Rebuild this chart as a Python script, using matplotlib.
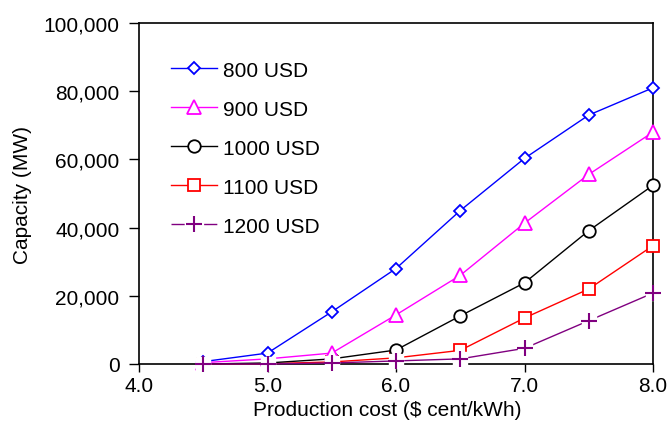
import matplotlib
matplotlib.use("Agg")
import matplotlib.pyplot as plt
from matplotlib.lines import Line2D

plt.rcParams['font.family'] = ['Liberation Sans', 'DejaVu Sans']

cost = [4.5, 5.0, 5.5, 6.0, 6.5, 7.0, 7.5, 8.0]
cap_800 = [700, 3200, 15300, 28000, 45000, 60300, 73000, 81000]
cap_900 = [400, 1500, 3200, 14400, 26000, 41300, 55600, 68000]
cap_1000 = [0, 300, 1500, 4100, 14100, 23800, 39100, 52400]
cap_1100 = [0, 100, 600, 1800, 4000, 13500, 22000, 34700]
cap_1200 = [0, 0, 300, 900, 1500, 4600, 12700, 20800]

labels = ['800 USD', '900 USD', '1000 USD', '1100 USD', '1200 USD']
colors = ['#0000ff', '#ff00ff', '#000000', '#ff0000', '#800080']
markers = ['D', '^', 'o', 's', '+']
msizes = [6.5, 9.5, 9, 8.5, 11]
series = [cap_800, cap_900, cap_1000, cap_1100, cap_1200]
zorders = [6, 5, 4, 3, 7]
LW = 1.0

fig = plt.figure(figsize=(6.7, 4.31), dpi=100)
ax = fig.add_axes([139/670, 1-365/431, (653-139)/670, (365-24)/431])

handles = []
for y, lab, c, m, ms, z in zip(series, labels, colors, markers, msizes, zorders):
    if m == '+':
        ax.plot(cost, y, color=c, lw=LW, clip_on=False, zorder=z)
        ax.plot(cost, y, linestyle='none', marker='s', ms=10.5,
                mfc='white', mec='white', clip_on=False, zorder=z + 0.1)
        ax.plot(cost, y, linestyle='none', marker='+', ms=ms, mew=1.5,
                color=c, clip_on=False, zorder=z + 0.2)
        h = Line2D([], [], color=c, lw=LW, marker='+', ms=ms, mew=1.5,
                   linestyle=(0, (9.5, 14, 9.5, 14)))
        handles.append(h)
    else:
        ln, = ax.plot(cost, y, color=c, lw=LW, marker=m, ms=ms, mfc='white',
                      mec=c, mew=1.3, clip_on=False, zorder=z)
        handles.append(ln)

ax.set_xlim(4.0, 8.0)
ax.set_ylim(0, 100000)
ax.set_xticks([4.0, 5.0, 6.0, 7.0, 8.0])
ax.set_xticklabels(['4.0', '5.0', '6.0', '7.0', '8.0'])
ax.set_yticks([0, 20000, 40000, 60000, 80000, 100000])
ax.set_yticklabels(['0', '20,000', '40,000', '60,000', '80,000', '100,000'])
ax.tick_params(axis='x', direction='out', length=6, width=1, labelsize=15, pad=3)
ax.tick_params(axis='y', direction='out', length=7, width=1, labelsize=15, pad=7)
ax.tick_params(top=False, right=False)
for s in ax.spines.values():
    s.set_linewidth(1.2)

ax.set_xlabel('Production cost ($ cent/kWh)', fontsize=15, labelpad=3)
ax.xaxis.label.set_x((387 - 139) / 514)
ax.set_ylabel('Capacity (MW)', fontsize=15, labelpad=8)

ax.legend(handles, labels, loc='upper left', bbox_to_anchor=(0.062, 0.89),
          frameon=False, fontsize=15, handlelength=2.2, handletextpad=0.3,
          labelspacing=0.96, borderpad=0, borderaxespad=0)

fig.savefig('out.png', dpi=100)
